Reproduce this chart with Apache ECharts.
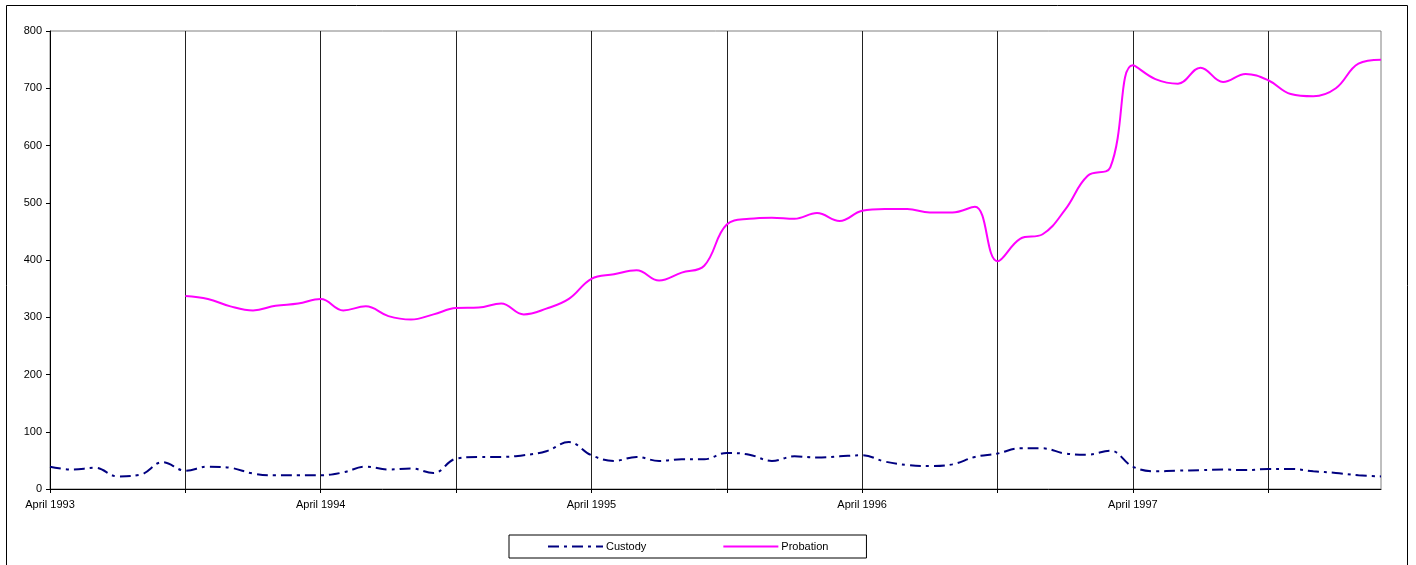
<!DOCTYPE html>
<html>
<head>
<meta charset="utf-8">
<script src="https://cdn.jsdelivr.net/npm/echarts@6/dist/echarts.min.js"></script>
<style>
html,body{margin:0;padding:0;background:#fff;}
#chart{width:1416px;height:565px;}
</style>
</head>
<body>
<div id="chart"></div>
<script>
var months = [
 "April 1993","May 1993","June 1993","July 1993","August 1993","September 1993",
 "October 1993","November 1993","December 1993","January 1994","February 1994","March 1994",
 "April 1994","May 1994","June 1994","July 1994","August 1994","September 1994",
 "October 1994","November 1994","December 1994","January 1995","February 1995","March 1995",
 "April 1995","May 1995","June 1995","July 1995","August 1995","September 1995",
 "October 1995","November 1995","December 1995","January 1996","February 1996","March 1996",
 "April 1996","May 1996","June 1996","July 1996","August 1996","September 1996",
 "October 1996","November 1996","December 1996","January 1997","February 1997","March 1997",
 "April 1997","May 1997","June 1997","July 1997","August 1997","September 1997",
 "October 1997","November 1997","December 1997","January 1998","February 1998","March 1998"
];

var custody = [
 39, 34, 37, 22, 25, 47,
 32, 39, 37, 27, 24, 24,
 24, 29, 39, 34, 36, 28,
 53, 56, 56, 59, 66, 82,
 59, 49, 56, 49, 52, 52,
 63, 60, 49, 57, 55, 57,
 59, 48, 42, 40, 43, 56,
 62, 71, 71, 62, 60, 67,
 39, 31, 32, 33, 34, 33,
 35, 35, 31, 28, 24, 22
];

var probation = [
 null, null, null, null, null, null,
 337, 332, 319, 312, 320, 324,
 332, 312, 319, 302, 296, 305,
 316, 317, 324, 305, 315, 332,
 367, 375, 382, 364, 378, 390,
 462, 472, 474, 472, 482, 468,
 486, 489, 489, 483, 483, 493,
 398, 437, 445, 488, 547, 562,
 740, 716, 708, 736, 711, 725,
 714, 690, 686, 700, 743, 750
];

var yMin = 0, yMax = 800, yStep = 100;

var FONT = "'Liberation Sans', Arial, sans-serif";
var chart = echarts.init(document.getElementById('chart'), null, {renderer: 'canvas'});
chart.setOption({
  animation: false,
  backgroundColor: '#ffffff',
  graphic: [{
    type: 'rect',
    shape: {x: 6.5, y: 5.5, width: 1401, height: 580},
    style: {fill: 'none', stroke: '#000', lineWidth: 1},
    silent: true, z: -1
  }],
  grid: {
    left: 50, top: 31, right: 35, bottom: 76,
    show: true, borderColor: '#808080', borderWidth: 1, backgroundColor: 'transparent'
  },
  legend: {
    left: 509, top: 535,
    padding: [6, 38, 6, 38],
    itemGap: 76,
    itemWidth: 55, itemHeight: 10,
    borderColor: '#000', borderWidth: 1,
    itemStyle: {opacity: 0},
    textStyle: {fontFamily: FONT, fontSize: 11, color: '#000', padding: [0, 0, 0, -2]},
    data: ['Custody', 'Probation']
  },
  xAxis: {
    type: 'category',
    data: months,
    boundaryGap: false,
    axisLine: {lineStyle: {color: '#000', width: 1}},
    axisTick: {show: true, interval: 5, length: 4, lineStyle: {color: '#000'}},
    axisLabel: {
      interval: 11, color: '#000', fontFamily: FONT, fontSize: 11, margin: 10
    },
    splitLine: {show: true, interval: 5, lineStyle: {color: '#222', width: 1}}
  },
  yAxis: {
    type: 'value',
    min: yMin, max: yMax, interval: yStep,
    axisLine: {show: true, lineStyle: {color: '#000', width: 1}},
    axisTick: {show: true, length: 4, lineStyle: {color: '#000'}},
    axisLabel: {color: '#000', fontFamily: FONT, fontSize: 11, margin: 8},
    splitLine: {show: false}
  },
  series: [
    {
      name: 'Custody', type: 'line', data: custody,
      smooth: 0.4, symbol: 'none',
      lineStyle: {color: '#000080', width: 2, type: [11, 5, 3, 5]},
      itemStyle: {color: '#000080'}
    },
    {
      name: 'Probation', type: 'line', data: probation,
      smooth: 0.4, symbol: 'none', connectNulls: false,
      lineStyle: {color: '#ff00ff', width: 2},
      itemStyle: {color: '#ff00ff'}
    }
  ]
});
</script>
</body>
</html>
